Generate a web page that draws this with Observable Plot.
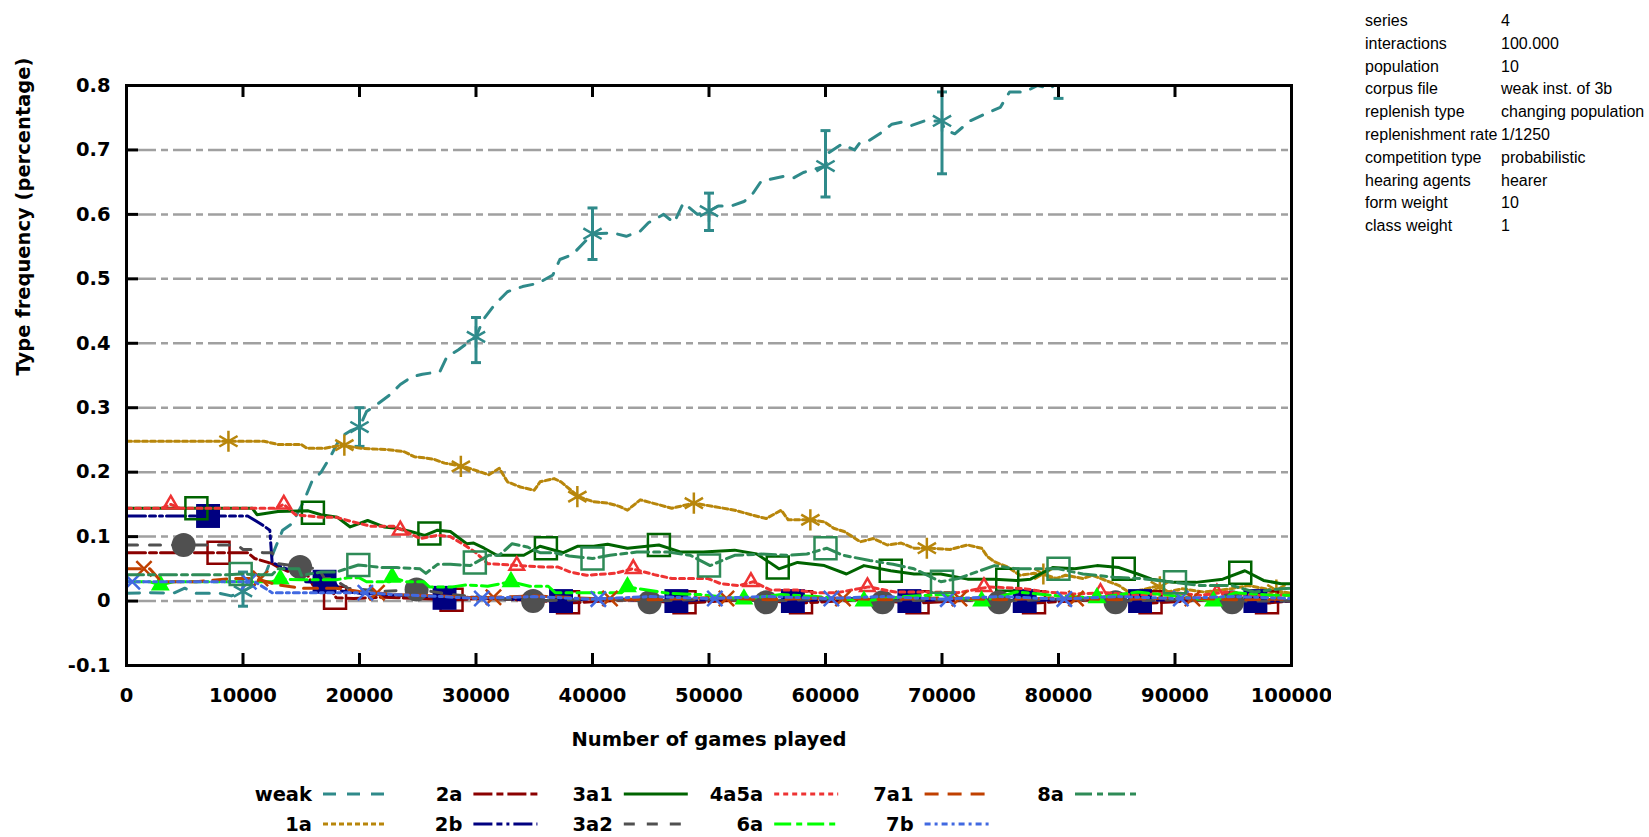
<!DOCTYPE html>
<html><head><meta charset="utf-8">
<script src="https://cdn.jsdelivr.net/npm/d3@7"></script>
<script src="https://cdn.jsdelivr.net/npm/@observablehq/plot@0.6"></script>
<style>
body{margin:0;background:#fff;}
#wrap{position:relative;width:1649px;height:837px;overflow:hidden;background:#fff;}
#chart{position:absolute;left:0;top:0;}
#legend{position:absolute;left:0;top:760px;}
#info{position:absolute;left:1365px;top:10px;font-family:"Liberation Sans",Arial,sans-serif;font-size:16px;line-height:22.8px;color:#000;}
#info table{border-collapse:collapse;}
#info td{padding:0;white-space:nowrap;vertical-align:middle;height:22.8px;}
#info td.k{width:136px;}
</style></head>
<body><div id="wrap"><div id="chart"></div><svg id="legend" width="1331" height="77"></svg><div id="info"></div></div>
<script>
// ---------- data ----------
const xTicks = [0,10000,20000,30000,40000,50000,60000,70000,80000,90000,100000];
const yTicks = [-0.1,0,0.1,0.2,0.3,0.4,0.5,0.6,0.7,0.8];
const gridValues = [0,0.1,0.2,0.3,0.4,0.5,0.6,0.7];
const xLabel = "Number of games played";
const yLabel = "Type frequency (percentage)";
const seriesNames = ["weak","1a","2a","2b","3a1","3a2","4a5a","6a","7a1","7b","8a"];

const infoKeys = ["series","interactions","population","corpus file","replenish type","replenishment rate","competition type","hearing agents","form weight","class weight"];
const infoValues = ["4","100.000","10","weak inst. of 3b","changing population","1/1250","probabilistic","hearer","10","1"];

const weak = [[0,0.012],[2000,0.013],[4000,0.012],[5000,0.02],[6000,0.012],[8000,0.012],[9000,0.008],[10000,0.015],[11000,0.025],[12000,0.045],[12600,0.075],[13400,0.11],[14200,0.12],[15200,0.154],[15900,0.185],[16700,0.2],[17500,0.224],[18400,0.255],[19200,0.264],[20000,0.27],[20600,0.294],[21500,0.305],[22600,0.32],[23500,0.336],[24500,0.348],[25400,0.352],[26900,0.356],[27500,0.379],[28500,0.39],[30000,0.41],[30600,0.436],[31600,0.46],[32700,0.48],[34000,0.488],[35300,0.493],[36600,0.506],[37200,0.53],[38300,0.538],[40000,0.57],[41800,0.571],[42900,0.566],[44100,0.574],[44800,0.587],[46100,0.6],[47000,0.587],[47800,0.618],[49000,0.6],[50000,0.605],[50800,0.613],[51900,0.613],[53000,0.62],[53600,0.628],[54500,0.652],[55100,0.654],[56400,0.659],[57300,0.657],[58100,0.665],[60000,0.675],[60300,0.696],[61400,0.709],[62500,0.7],[62900,0.71],[63700,0.714],[64800,0.727],[65700,0.74],[66500,0.743],[67400,0.738],[68500,0.745],[70000,0.745],[70200,0.732],[71100,0.725],[72400,0.745],[73700,0.756],[75000,0.766],[75800,0.79],[77100,0.79],[78200,0.8],[79300,0.795],[80500,0.815],[85000,0.83],[90000,0.85],[95000,0.86],[100000,0.87]];
const weakPoints = [[10000,0.015],[20000,0.27],[30000,0.41],[40000,0.57],[50000,0.605],[60000,0.675],[70000,0.745],[80000,0.83]];
const weakErrLow  = [-0.008,0.24,0.37,0.53,0.575,0.627,0.663,0.78];
const weakErrHigh = [0.045,0.30,0.44,0.61,0.633,0.73,0.79,0.9];

const s1a = [[0,0.248],[4000,0.248],[8750,0.248],[11800,0.248],[13000,0.243],[15000,0.243],[15500,0.237],[17000,0.237],[18400,0.242],[20100,0.237],[22400,0.235],[23800,0.232],[24700,0.224],[25700,0.222],[26400,0.22],[27300,0.214],[28900,0.209],[31100,0.196],[32000,0.206],[32700,0.185],[33800,0.177],[35000,0.172],[35500,0.185],[36700,0.19],[37300,0.185],[38800,0.162],[40100,0.154],[41300,0.152],[42300,0.147],[43000,0.141],[44100,0.157],[45800,0.149],[46800,0.144],[48700,0.152],[50300,0.147],[52200,0.141],[53800,0.133],[54900,0.128],[56200,0.141],[56800,0.126],[58700,0.126],[59900,0.123],[60700,0.113],[61600,0.108],[63000,0.092],[64100,0.097],[65300,0.087],[66500,0.09],[67600,0.082],[69100,0.082],[70700,0.08],[72200,0.087],[73400,0.082],[73900,0.069],[74500,0.061],[75600,0.053],[76700,0.04],[77900,0.043],[79000,0.04],[79800,0.035],[80600,0.04],[82100,0.035],[82900,0.04],[85200,0.024],[86000,0.014],[87100,0.017],[88600,0.024],[89400,0.014],[90600,0.019],[92500,0.014],[94800,0.019],[96300,0.024],[98300,0.017],[100000,0.012]];
const s1aPoints = [[8750,0.248],[18700,0.242],[28700,0.209],[38700,0.162],[48700,0.152],[58700,0.126],[68700,0.082],[78700,0.042],[88700,0.022],[98700,0.017]];

const s2a = [[0,0.075],[7900,0.075],[10400,0.075],[11000,0.066],[12500,0.058],[13000,0.053],[14000,0.045],[15400,0.045],[16000,0.025],[17500,0.02],[18000,0.005],[19500,0.004],[22000,0.006],[25000,0.004],[28000,0.002],[31000,0.004],[35000,0.001],[38000,-0.003],[43000,0.002],[48000,-0.003],[53000,0.002],[58000,-0.003],[63000,0.002],[68000,-0.003],[73000,0.002],[78000,-0.003],[83000,0.002],[88000,-0.003],[93000,0.002],[98000,-0.003],[100000,0.0]];
const s2aPoints = [[7900,0.075],[17900,0.005],[27900,0.002],[37900,-0.002],[47900,-0.002],[57900,-0.002],[67900,-0.002],[77900,-0.002],[87900,-0.002],[97900,-0.002]];

const s2b = [[0,0.132],[7000,0.132],[10400,0.132],[11500,0.12],[12300,0.11],[12500,0.06],[13700,0.05],[14800,0.05],[15300,0.03],[17900,0.028],[18300,0.016],[20000,0.012],[22000,0.01],[25000,0.008],[27300,0.005],[30000,0.006],[33000,0.003],[37300,0.0],[40000,0.004],[47200,0.0],[52000,0.004],[57200,0.0],[62000,0.004],[67200,0.0],[72000,0.004],[77100,0.0],[82000,0.004],[87000,0.0],[92000,0.004],[96900,0.0],[100000,0.0]];
const s2bPoints = [[7000,0.132],[17000,0.03],[27300,0.005],[37300,0.0],[47200,0.0],[57200,0.0],[67200,0.0],[77100,0.0],[87000,0.0],[96900,0.0]];

const s3a1 = [[0,0.144],[6000,0.144],[10800,0.144],[11200,0.134],[13000,0.139],[15600,0.14],[16700,0.134],[18100,0.13],[19200,0.115],[20700,0.125],[22100,0.115],[23200,0.113],[24400,0.108],[25600,0.102],[26700,0.11],[27800,0.108],[29200,0.089],[29800,0.09],[30700,0.082],[31800,0.071],[33000,0.071],[34100,0.071],[35500,0.085],[37500,0.075],[38700,0.085],[40100,0.085],[41300,0.088],[43000,0.082],[45700,0.087],[47600,0.076],[49500,0.076],[52200,0.079],[54100,0.073],[55200,0.06],[56000,0.05],[57600,0.06],[59900,0.055],[61800,0.042],[63300,0.055],[65600,0.047],[67600,0.042],[69900,0.042],[72200,0.034],[74500,0.034],[76400,0.032],[77600,0.034],[79500,0.052],[81400,0.05],[83300,0.055],[85200,0.052],[86800,0.042],[88000,0.034],[89900,0.029],[91800,0.029],[94100,0.034],[96000,0.047],[97600,0.032],[99100,0.027],[100000,0.027]];
const s3a1Points = [[6000,0.144],[16000,0.137],[26000,0.105],[36000,0.082],[45700,0.087],[55900,0.052],[65600,0.047],[75600,0.033],[85600,0.05],[95600,0.044]];

const s3a2 = [[0,0.087],[4900,0.087],[9500,0.087],[10000,0.08],[11000,0.08],[11700,0.075],[12500,0.075],[13000,0.058],[15000,0.053],[16500,0.05],[17000,0.035],[17700,0.035],[19000,0.02],[22000,0.015],[25000,0.018],[28000,0.01],[31000,0.005],[35000,0.0],[40000,0.003],[45000,0.0],[50000,0.003],[55000,0.0],[60000,0.003],[65000,0.0],[70000,0.002],[75000,0.0],[80000,0.003],[85000,0.0],[90000,0.002],[95000,0.0],[100000,0.0]];
const s3a2Points = [[4900,0.087],[14900,0.053],[24900,0.018],[34900,0.0],[44900,-0.002],[54900,-0.002],[64900,-0.002],[74900,-0.002],[84900,-0.002],[94900,-0.002]];

const s4a5a = [[0,0.144],[3000,0.144],[3800,0.15],[4600,0.144],[12800,0.144],[13500,0.15],[14500,0.134],[16700,0.13],[18000,0.13],[19200,0.124],[21000,0.116],[23000,0.116],[24300,0.105],[25200,0.097],[26700,0.102],[27800,0.1],[29000,0.087],[30000,0.075],[31000,0.058],[33800,0.055],[35800,0.053],[37000,0.053],[38100,0.045],[39500,0.04],[41900,0.043],[43400,0.05],[45300,0.041],[46800,0.035],[49900,0.035],[51000,0.027],[52600,0.024],[53800,0.03],[55300,0.017],[57600,0.017],[59100,0.013],[61000,0.013],[63700,0.022],[66000,0.014],[68300,0.014],[71400,0.013],[74100,0.022],[77100,0.019],[79000,0.014],[81400,0.011],[84100,0.013],[86800,0.009],[89900,0.013],[92200,0.009],[94500,0.014],[96800,0.009],[100000,0.009]];
const s4a5aPoints = [[3800,0.15],[13500,0.15],[23500,0.11],[33500,0.055],[43500,0.05],[53600,0.03],[63600,0.022],[73600,0.022],[83600,0.013],[93600,0.012]];

const s6a = [[0,0.03],[2000,0.03],[2900,0.025],[4000,0.03],[8000,0.03],[12500,0.03],[13200,0.034],[15000,0.033],[18000,0.033],[19000,0.036],[20000,0.036],[20600,0.03],[22600,0.03],[22800,0.037],[24000,0.03],[25500,0.03],[26000,0.022],[28000,0.022],[29200,0.025],[31000,0.023],[33000,0.03],[34600,0.023],[36200,0.023],[36800,0.013],[38400,0.013],[42500,0.013],[43000,0.022],[46500,0.012],[49300,0.01],[53000,0.003],[56200,0.01],[59200,0.007],[63300,0.0],[66800,0.007],[69900,0.01],[73400,0.0],[76400,0.014],[80000,0.008],[83300,0.005],[86800,0.014],[90000,0.008],[93300,0.0],[95200,0.013],[98300,0.009],[100000,0.009]];
const s6aPoints = [[2900,0.025],[13200,0.034],[22800,0.037],[33000,0.03],[43000,0.022],[53000,0.003],[63300,0.0],[73400,0.0],[83300,0.005],[93300,0.0]];

const s7a1 = [[0,0.05],[2000,0.05],[3000,0.03],[6000,0.03],[9000,0.035],[11000,0.035],[13000,0.025],[15000,0.02],[18000,0.02],[20000,0.015],[23000,0.01],[27000,0.008],[30000,0.005],[35000,0.008],[40000,0.004],[45000,0.002],[50000,0.005],[55000,0.002],[60000,0.005],[65000,0.002],[70000,0.005],[75000,0.002],[80000,0.005],[85000,0.002],[90000,0.005],[95000,0.002],[100000,0.003]];
const s7a1Points = [[1500,0.05],[11500,0.035],[21500,0.013],[31500,0.006],[41500,0.004],[51500,0.004],[61500,0.004],[71500,0.004],[81500,0.004],[91500,0.004]];

const s7b = [[0,0.03],[500,0.03],[5000,0.03],[9500,0.03],[11000,0.03],[12500,0.013],[15000,0.013],[18000,0.013],[20500,0.013],[23000,0.01],[26000,0.008],[30000,0.004],[35000,0.007],[40000,0.003],[45000,0.007],[50000,0.004],[55000,0.007],[60000,0.004],[65000,0.007],[70000,0.003],[75000,0.007],[80000,0.003],[85000,0.007],[90000,0.004],[95000,0.007],[100000,0.004]];
const s7bPoints = [[500,0.03],[10500,0.03],[20500,0.013],[30500,0.004],[40500,0.003],[50500,0.004],[60500,0.004],[70500,0.003],[80500,0.003],[90500,0.004]];

const s8a = [[0,0.041],[8700,0.041],[9800,0.042],[11500,0.041],[12500,0.041],[13000,0.05],[14800,0.05],[15000,0.04],[16700,0.045],[18000,0.045],[19900,0.056],[21900,0.052],[23200,0.052],[25200,0.05],[25700,0.043],[26700,0.057],[27800,0.057],[29500,0.055],[31100,0.071],[32000,0.071],[33100,0.089],[34400,0.084],[35500,0.075],[36700,0.075],[38000,0.07],[40000,0.066],[41500,0.071],[43800,0.076],[46500,0.076],[48400,0.071],[50100,0.055],[52200,0.071],[54500,0.073],[56800,0.071],[58400,0.073],[60100,0.082],[61500,0.071],[63800,0.063],[65800,0.057],[67600,0.05],[69900,0.03],[71400,0.035],[74500,0.055],[76400,0.05],[77600,0.05],[80000,0.05],[82100,0.042],[84800,0.037],[87100,0.035],[90000,0.029],[92200,0.024],[94900,0.024],[96800,0.014],[99100,0.019],[100000,0.02]];
const s8aPoints = [[9800,0.042],[19900,0.056],[29900,0.06],[40000,0.066],[50000,0.055],[60000,0.082],[70000,0.03],[80000,0.05],[90000,0.029]];

// ---------- styles ----------
const styleOf = {
  "weak": {color:"#2f8a8a", dash:"13,11", symbol:"asterisk", r:10, filled:false},
  "1a":   {color:"#b8860b", dash:"5,3", symbol:"asterisk", r:10, filled:false},
  "2a":   {color:"#8b0000", dash:"19,4,7,4", symbol:"square2", r:14, filled:false},
  "2b":   {color:"#000080", dash:"19,4,6,4,3,4", symbol:"square", r:13.5, filled:true},
  "3a1":  {color:"#006400", dash:null, symbol:"square2", r:14, filled:false},
  "3a2":  {color:"#505050", dash:"11,12", symbol:"circle", r:12, filled:true},
  "4a5a": {color:"#ee3333", dash:"5,4", symbol:"triangle2", r:7, filled:false},
  "6a":   {color:"#00ff00", dash:"17,5,6,5", symbol:"triangle", r:7, filled:true},
  "7a1":  {color:"#c04000", dash:"14,9", symbol:"times", r:7, filled:false},
  "7b":   {color:"#4169e1", dash:"6,4,3,4", symbol:"times", r:7, filled:false},
  "8a":   {color:"#2e8b57", dash:"17,5,6,5", symbol:"square2", r:14, filled:false}
};
const seriesData = {"weak":weak,"1a":s1a,"2a":s2a,"2b":s2b,"3a1":s3a1,"3a2":s3a2,"4a5a":s4a5a,"6a":s6a,"7a1":s7a1,"7b":s7b,"8a":s8a};
const seriesPoints = {"weak":weakPoints,"1a":s1aPoints,"2a":s2aPoints,"2b":s2bPoints,"3a1":s3a1Points,"3a2":s3a2Points,"4a5a":s4a5aPoints,"6a":s6aPoints,"7a1":s7a1Points,"7b":s7bPoints,"8a":s8aPoints};

const FONT = "'DejaVu Sans', sans-serif";
const capSymbol = {draw(ctx, size){const r = Math.sqrt(size/Math.PI); ctx.moveTo(-r,0); ctx.lineTo(r,0);}};

const marks = [
  Plot.ruleY(gridValues, {stroke:"#a0a0a0", strokeWidth:2.5, strokeDasharray:"18,5,7,5", insetLeft:12})
];
for (const name of seriesNames) {
  const st = styleOf[name];
  marks.push(Plot.line(seriesData[name], {x:d=>d[0], y:d=>d[1], stroke:st.color, strokeWidth:3, strokeDasharray:st.dash || undefined, clip:true}));
  if (name === "weak") {
    const err = weakPoints.map((p,i)=>({x:p[0], lo:weakErrLow[i], hi:weakErrHigh[i]}));
    marks.push(Plot.ruleX(err, {x:"x", y1:"lo", y2:"hi", stroke:st.color, strokeWidth:3, clip:true}));
    marks.push(Plot.dot(err, {x:"x", y:"lo", symbol:capSymbol, r:5, stroke:st.color, strokeWidth:3, clip:true}));
    marks.push(Plot.dot(err, {x:"x", y:"hi", symbol:capSymbol, r:5, stroke:st.color, strokeWidth:3, clip:true}));
  }
  marks.push(Plot.dot(seriesPoints[name], st.filled
    ? {x:d=>d[0], y:d=>d[1], symbol:st.symbol, r:st.r, fill:st.color, stroke:"none", clip:true}
    : {x:d=>d[0], y:d=>d[1], symbol:st.symbol, r:st.r, stroke:st.color, fill:"none", strokeWidth:2.5, clip:true}));
}
marks.push(
  Plot.ruleX(xTicks.slice(1,-1), {x:d=>d, insetTop:568, stroke:"black", strokeWidth:3}),
  Plot.ruleX(xTicks.slice(1,-1), {x:d=>d, insetBottom:568, stroke:"black", strokeWidth:3}),
  Plot.ruleY(yTicks.slice(1,-1), {y:d=>d, insetRight:1165-12, stroke:"black", strokeWidth:3}),
  Plot.frame({stroke:"black", strokeWidth:3}),
  Plot.axisX({ticks:xTicks, tickSize:0, tickPadding:23, tickFormat:d=>String(d), label:null, fontSize:19.5, fontWeight:"bold", fontFamily:FONT}),
  Plot.axisY({ticks:yTicks, tickSize:0, tickPadding:16, tickFormat:d=>d===0?"0":d.toFixed(1), label:null, fontSize:19.5, fontWeight:"bold", fontFamily:FONT}),
  Plot.text([xLabel], {text:d=>d, frameAnchor:"bottom", dy:74, lineAnchor:"middle", fontSize:19.5, fontWeight:"bold", fontFamily:FONT}),
  Plot.text([yLabel], {text:d=>d, frameAnchor:"left", dx:-103, rotate:-90, lineAnchor:"middle", fontSize:19.5, fontWeight:"bold", fontFamily:FONT})
);

const chart = Plot.plot({
  width:1331, height:760,
  marginLeft:126, marginRight:40, marginTop:85, marginBottom:95,
  x:{domain:[0,100000]},
  y:{domain:[-0.1,0.8]},
  style:{background:"white", color:"black", overflow:"hidden", fontFamily:FONT},
  marks
});
document.getElementById("chart").appendChild(chart);

// ---------- legend ----------
const lg = d3.select("#legend");
seriesNames.forEach((name,i)=>{
  const st = styleOf[name];
  const col = Math.floor(i/2), row = i%2;
  const xe = 312 + col*150.4, y = 34 + row*30;
  lg.append("text").attr("x",xe).attr("y",y).attr("text-anchor","end").attr("dy","0.36em")
    .attr("font-family",FONT).attr("font-size",19.5).attr("font-weight","bold").text(name);
  lg.append("line").attr("x1",xe+11).attr("x2",xe+75).attr("y1",y).attr("y2",y)
    .attr("stroke",st.color).attr("stroke-width",3).attr("stroke-dasharray",st.dash || null);
});

// ---------- info table ----------
const tbl = d3.select("#info").append("table");
infoKeys.forEach((k,i)=>{
  const tr = tbl.append("tr");
  tr.append("td").attr("class","k").text(k);
  tr.append("td").text(infoValues[i]);
});
</script></body></html>
